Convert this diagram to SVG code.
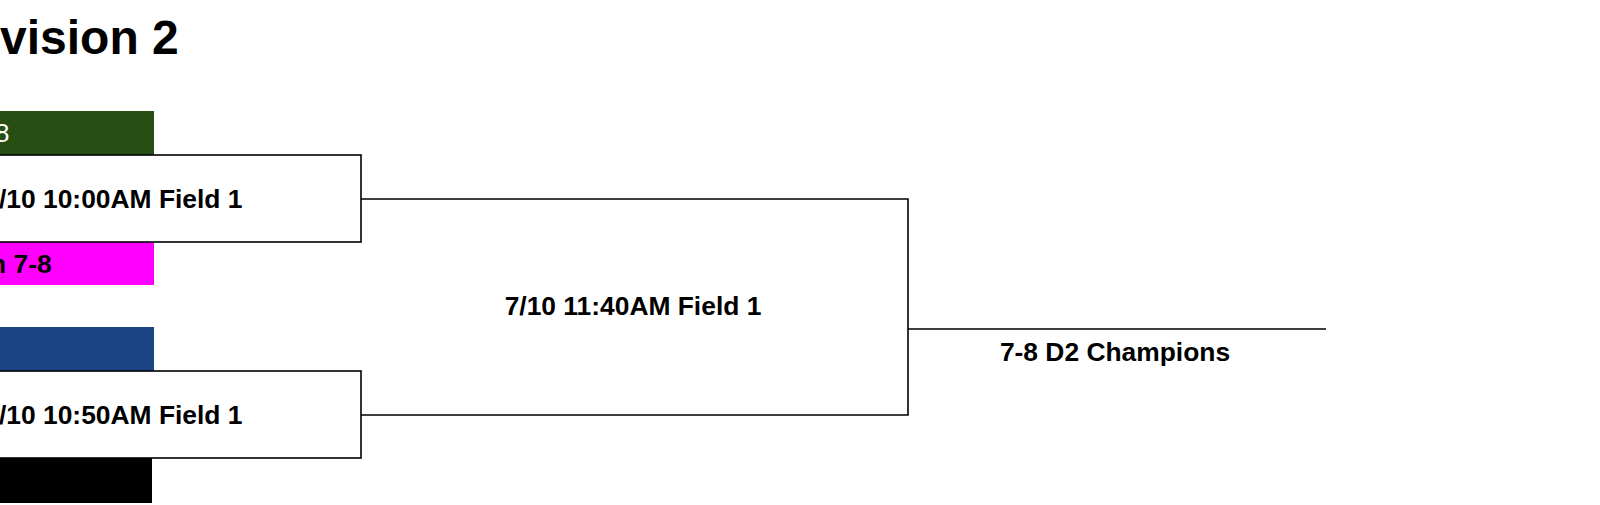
<svg xmlns="http://www.w3.org/2000/svg" width="1600" height="505" viewBox="0 0 1600 505">
<style>
.t{font-family:"Liberation Sans",Arial,sans-serif;font-size:26.4px;font-weight:bold;fill:#000}
.w{font-family:"Liberation Sans",Arial,sans-serif;font-size:26px;fill:#fff}
.box{fill:#fff;stroke:#000;stroke-width:1.6}
.ln{fill:none;stroke:#000;stroke-width:1.6}
</style>
<rect width="1600" height="505" fill="#fff"/>
<g id="title"><text x="0" y="54" class="t" style="font-size:48px">vision 2</text></g>
<g id="team1"><rect x="-10" y="111" width="164" height="44" fill="#274e13"/><text x="-5" y="142" class="w">8</text></g>
<g id="team2"><rect x="-10" y="242" width="164" height="43" fill="#ff00ff"/><text x="-10" y="273" class="t">n 7-8</text></g>
<g id="team3"><rect x="-10" y="327" width="164" height="44" fill="#1c4587"/></g>
<g id="team4"><rect x="-10" y="458" width="162" height="45" fill="#000"/></g>
<g id="game1"><rect x="-10" y="155" width="371" height="87" class="box"/><text x="-1" y="208" class="t">/10 10:00AM Field 1</text></g>
<g id="game2"><rect x="-10" y="371" width="371" height="87" class="box"/><text x="-1" y="424" class="t">/10 10:50AM Field 1</text></g>
<g id="connectors"><path class="ln" d="M361 199H908V415H361M908 329H1326"/></g>
<g id="final"><text x="633" y="315" class="t" text-anchor="middle">7/10 11:40AM Field 1</text></g>
<g id="champion"><text x="1115" y="361" class="t" text-anchor="middle">7-8 D2 Champions</text></g>
</svg>
